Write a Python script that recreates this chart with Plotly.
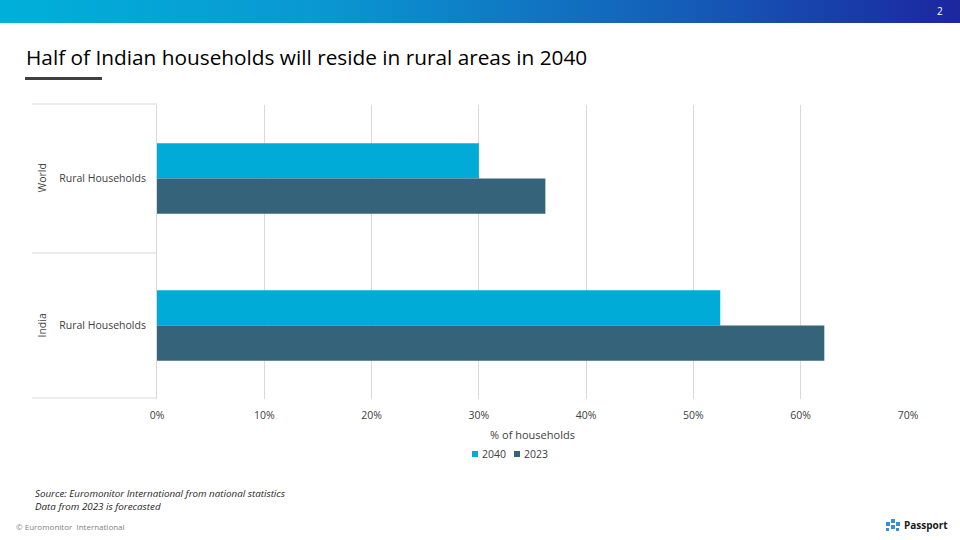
import plotly.graph_objects as go

# ---- data ----
regions = ["World", "India"]
region_label = "Rural Households"
series_names = ["2040", "2023"]
values_2040 = [30.0, 52.5]
values_2023 = [36.2, 62.2]
x_ticks = [0, 10, 20, 30, 40, 50, 60, 70]
x_tick_labels = ["0%", "10%", "20%", "30%", "40%", "50%", "60%", "70%"]

# ---- layout geometry (pixels) ----
W, H = 960, 540
L, R, T, B = 157, 908, 105, 399


def px(x):
    return (x - L) / (R - L)


def py(y):
    return (B - y) / (B - T)


col_2040 = "#00acd7"
col_2023 = "#35647a"
colors = [col_2040, col_2023]

fig = go.Figure()
fig.add_trace(go.Bar(name=series_names[0], y=regions, x=values_2040, orientation="h",
                     marker=dict(color=col_2040, line=dict(width=0))))
fig.add_trace(go.Bar(name=series_names[1], y=regions, x=values_2023, orientation="h",
                     marker=dict(color=col_2023, line=dict(width=0))))

shapes = []
# gradient banner
stops = [(0.0, (0, 176, 218)), (0.33, (10, 152, 210)), (0.7, (20, 95, 185)), (1.0, (28, 38, 160))]


def grad(t):
    for i in range(len(stops) - 1):
        t0, c0 = stops[i]
        t1, c1 = stops[i + 1]
        if t0 <= t <= t1:
            f = (t - t0) / (t1 - t0)
            return "rgb(%d,%d,%d)" % tuple(round(c0[k] + (c1[k] - c0[k]) * f) for k in range(3))
    return "rgb(%d,%d,%d)" % stops[-1][1]


n = 120
for i in range(n):
    x0 = W * i / n
    x1 = W * (i + 1) / n + 0.5
    shapes.append(dict(type="rect", xref="paper", yref="paper",
                       x0=px(x0), x1=px(x1), y0=py(23), y1=py(0),
                       fillcolor=grad((i + 0.5) / n), line=dict(width=0), layer="above"))
# title underline
shapes.append(dict(type="rect", xref="paper", yref="paper", x0=px(25), x1=px(102),
                   y0=py(80), y1=py(77), fillcolor="#404040", line=dict(width=0)))
# category divider lines at the left
for yy in [104, 253, 398]:
    shapes.append(dict(type="line", xref="paper", yref="paper", x0=px(32), x1=px(L),
                       y0=py(yy), y1=py(yy), line=dict(color="#d9d9d9", width=1)))
# Passport logo icon (approximate)
logo_col = "#3a8fd0"
for (lx, ly, s) in [(886, 522, 4), (891, 519, 4), (891, 525, 4), (896, 522, 4), (886, 528, 3), (896, 528, 3)]:
    shapes.append(dict(type="rect", xref="paper", yref="paper", x0=px(lx), x1=px(lx + s),
                       y0=py(ly + s), y1=py(ly), fillcolor=logo_col, line=dict(width=0)))

annotations = []
# title
annotations.append(dict(text="Half of Indian households will reside in rural areas in 2040",
                        xref="paper", yref="paper", x=px(24), y=py(57), xanchor="left", yanchor="middle",
                        showarrow=False, font=dict(family="Open Sans", size=20.8, color="#000000")))
# page number
annotations.append(dict(text="2", xref="paper", yref="paper", x=px(945), y=py(11), xanchor="right",
                        yanchor="middle", showarrow=False, font=dict(family="Open Sans", size=10, color="white")))
# group labels
for i, reg in enumerate(regions):
    ymid = T + (B - T) * (i + 0.5) / len(regions)
    annotations.append(dict(text=reg, xref="paper", yref="paper", x=px(41), y=py(ymid), xanchor="center",
                            yanchor="middle", textangle=-90, showarrow=False,
                            font=dict(family="Open Sans", size=10.5, color="#404040")))
# custom legend (compact squares like the reference)
leg_x = [472, 514]
for i, name in enumerate(series_names):
    shapes.append(dict(type="rect", xref="paper", yref="paper", x0=px(leg_x[i]), x1=px(leg_x[i] + 6),
                       y0=py(457), y1=py(451), fillcolor=colors[i], line=dict(width=0)))
    annotations.append(dict(text=name, xref="paper", yref="paper", x=px(leg_x[i] + 8), y=py(454),
                            xanchor="left", yanchor="middle", showarrow=False,
                            font=dict(family="Open Sans", size=10.5, color="#404040")))
# source notes
annotations.append(dict(text="<i>Source: Euromonitor International from national statistics</i>",
                        xref="paper", yref="paper", x=px(33), y=py(493), xanchor="left", yanchor="middle",
                        showarrow=False, font=dict(family="Open Sans", size=9.8, color="#262626")))
annotations.append(dict(text="<i>Data from 2023 is forecasted</i>",
                        xref="paper", yref="paper", x=px(33), y=py(506), xanchor="left", yanchor="middle",
                        showarrow=False, font=dict(family="Open Sans", size=9.8, color="#262626")))
annotations.append(dict(text="© Euromonitor  International",
                        xref="paper", yref="paper", x=px(14), y=py(526), xanchor="left", yanchor="middle",
                        showarrow=False, font=dict(family="Open Sans", size=8, color="#7f7f7f")))
annotations.append(dict(text="<b>Passport</b>",
                        xref="paper", yref="paper", x=px(902), y=py(525), xanchor="left", yanchor="middle",
                        showarrow=False, font=dict(family="Open Sans", size=10, color="#1a1a1a")))

fig.update_layout(
    width=W, height=H,
    margin=dict(l=L, r=W - R, t=T, b=H - B, pad=0),
    paper_bgcolor="white", plot_bgcolor="white",
    barmode="group", bargap=0.52, bargroupgap=0,
    font=dict(family="Open Sans", size=10.5, color="#404040"),
    xaxis=dict(range=[0, 70], tickvals=x_ticks, ticktext=x_tick_labels,
               showgrid=True, gridcolor="#d9d9d9", gridwidth=1, zeroline=False,
               showline=False, ticks="", ticklabelstandoff=8,
               tickfont=dict(size=10.5, color="#404040"),
               title=dict(text="% of households", font=dict(size=11, color="#404040"), standoff=10)),
    yaxis=dict(tickvals=regions, ticktext=[region_label] * len(regions), autorange="reversed",
               showgrid=False, zeroline=False, showline=True, linecolor="#d9d9d9", linewidth=1,
               ticks="", ticklabelstandoff=8, tickfont=dict(size=10.5, color="#404040")),
    showlegend=False,
    shapes=shapes, annotations=annotations,
)

fig.write_html("out.html", config={"displayModeBar": False},
               post_script="document.body.style.margin='0';document.body.style.overflow='hidden';")
